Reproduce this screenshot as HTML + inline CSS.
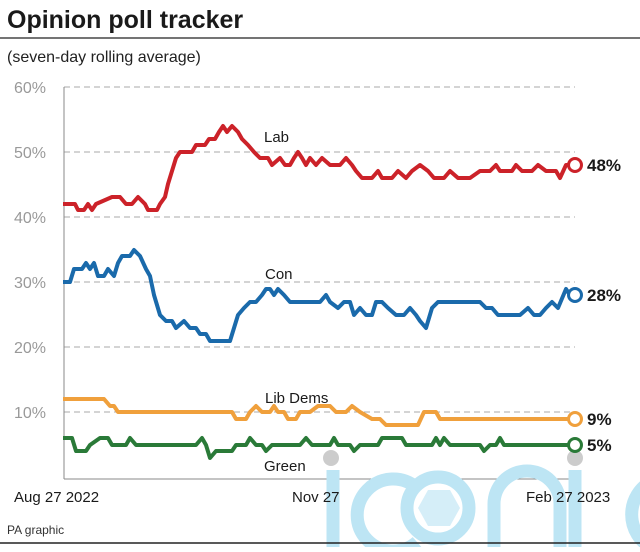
<!DOCTYPE html>
<html><head><style>
body{margin:0;background:#fff;font-family:"Liberation Sans",sans-serif;}
</style></head><body>
<svg width="640" height="547" xmlns="http://www.w3.org/2000/svg" font-family="Liberation Sans, sans-serif">
<rect width="640" height="547" fill="#fff"/>
<text x="7" y="28" font-size="25" font-weight="bold" fill="#1a1a1a">Opinion poll tracker</text>
<line x1="0" y1="38" x2="640" y2="38" stroke="#222" stroke-width="1.2"/>
<text x="7" y="62" font-size="16" fill="#222">(seven-day rolling average)</text>
<g stroke="#aaa" stroke-dasharray="6,4" stroke-width="1">
<line x1="64" y1="87" x2="575" y2="87"/><line x1="64" y1="152" x2="575" y2="152"/>
<line x1="64" y1="217" x2="575" y2="217"/><line x1="64" y1="282" x2="575" y2="282"/>
<line x1="64" y1="347" x2="575" y2="347"/><line x1="64" y1="412" x2="575" y2="412"/>
</g>
<line x1="64" y1="87" x2="64" y2="479" stroke="#888"/>
<line x1="64" y1="479" x2="575" y2="479" stroke="#888"/>
<g font-size="16" fill="#999">
<text x="14" y="93">60%</text><text x="14" y="158">50%</text><text x="14" y="223">40%</text>
<text x="14" y="288">30%</text><text x="14" y="353">20%</text><text x="14" y="418">10%</text>
</g>
<!-- watermark -->
<g fill="none" stroke="#bde5f4" stroke-width="13">
<line x1="333" y1="470" x2="333" y2="547"/>
<path d="M417 488 A36 36 0 1 0 417 542"/>
<circle cx="438" cy="508" r="31"/>
<path d="M494 547 V504 A33 33 0 0 1 560 504 V547"/>
<line x1="575" y1="470" x2="575" y2="547"/>
<path d="M650 482 A38 38 0 0 0 650 547"/>
</g>
<polygon points="428,490 450,490 460,508 450,526 428,526 418,508" fill="#d5eef8"/>
<circle cx="331" cy="458" r="8" fill="#ccc"/><circle cx="575" cy="458" r="8" fill="#ccc"/>
<g fill="none" stroke-width="4" stroke-linejoin="round">
<polyline stroke="#cc2229" points="63,204 75,204 78,210 84,210 88,204 92,210 96,204 112,197 120,197 126,204 132,204 138,197 145,204 148,210 157,210 160,204 165,197 168,184 172,171 176,158 180,152 192,152 196,145 205,145 209,139 215,139 219,132 223,126 227,132 232,126 238,132 242,139 248,145 254,152 260,158 268,158 272,165 280,158 285,165 290,165 294,158 298,152 302,158 306,165 310,158 316,165 322,158 330,165 340,165 346,158 352,165 356,171 362,178 372,178 378,171 382,178 392,178 398,171 406,178 412,171 420,165 428,171 434,178 444,178 450,171 458,178 470,178 480,171 490,171 496,165 500,171 512,171 516,165 522,171 532,171 538,165 546,171 556,171 560,178 566,165 575,165"/>
<polyline stroke="#1a6aab" points="63,282 70,282 74,269 82,269 86,263 90,269 94,263 98,276 104,276 108,269 114,276 118,263 122,256 130,256 134,250 140,256 146,269 150,276 154,295 160,315 166,321 172,321 176,328 184,321 190,328 196,328 200,334 206,334 210,341 230,341 234,328 238,315 244,308 250,302 256,302 262,295 266,289 270,289 274,295 278,289 284,295 290,302 320,302 326,295 330,302 338,308 344,302 350,302 354,315 360,308 366,315 372,315 376,302 382,302 388,308 396,315 404,315 410,308 416,315 420,321 426,328 432,308 438,302 480,302 486,308 492,308 498,315 520,315 528,308 534,315 540,315 546,308 552,302 558,308 566,289 570,295 575,295"/>
<polyline stroke="#f0a03c" points="63,399 104,399 110,406 114,406 118,412 232,412 236,419 246,419 250,412 256,406 262,412 270,412 274,406 278,412 284,412 288,419 296,419 300,412 310,412 318,406 330,406 336,412 346,412 352,406 360,412 372,419 380,419 386,425 418,425 424,412 436,412 440,419 575,419"/>
<polyline stroke="#2a7a38" points="63,438 72,438 76,451 86,451 90,445 100,438 108,438 112,445 126,445 130,438 136,445 196,445 202,438 206,445 210,458 216,451 232,451 236,445 246,445 250,438 256,445 262,445 266,451 272,445 300,445 306,438 312,445 330,445 334,438 338,445 350,445 354,451 360,445 378,445 382,438 402,438 406,445 432,445 436,438 440,445 444,438 450,445 480,445 484,451 490,445 496,445 500,438 504,445 575,445"/>
</g>
<g stroke-width="3" fill="#fff">
<circle cx="575" cy="165" r="6.5" stroke="#cc2229"/>
<circle cx="575" cy="295" r="6.5" stroke="#1a6aab"/>
<circle cx="575" cy="419" r="6.5" stroke="#f0a03c"/>
<circle cx="575" cy="445" r="6.5" stroke="#2a7a38"/>
</g>
<g font-size="17" font-weight="bold" fill="#1a1a1a">
<text x="587" y="171">48%</text><text x="587" y="301">28%</text>
<text x="587" y="425">9%</text><text x="587" y="451">5%</text>
</g>
<g font-size="15" fill="#1a1a1a">
<text x="264" y="142">Lab</text><text x="265" y="279">Con</text>
<text x="265" y="403">Lib Dems</text><text x="264" y="471">Green</text>
<text x="14" y="502">Aug 27 2022</text><text x="292" y="502">Nov 27</text><text x="526" y="502">Feb 27 2023</text>
</g>
<text x="7" y="534" font-size="12" fill="#333">PA graphic</text>
<line x1="0" y1="543" x2="640" y2="543" stroke="#222" stroke-width="1.5"/>
</svg>
</body></html>
